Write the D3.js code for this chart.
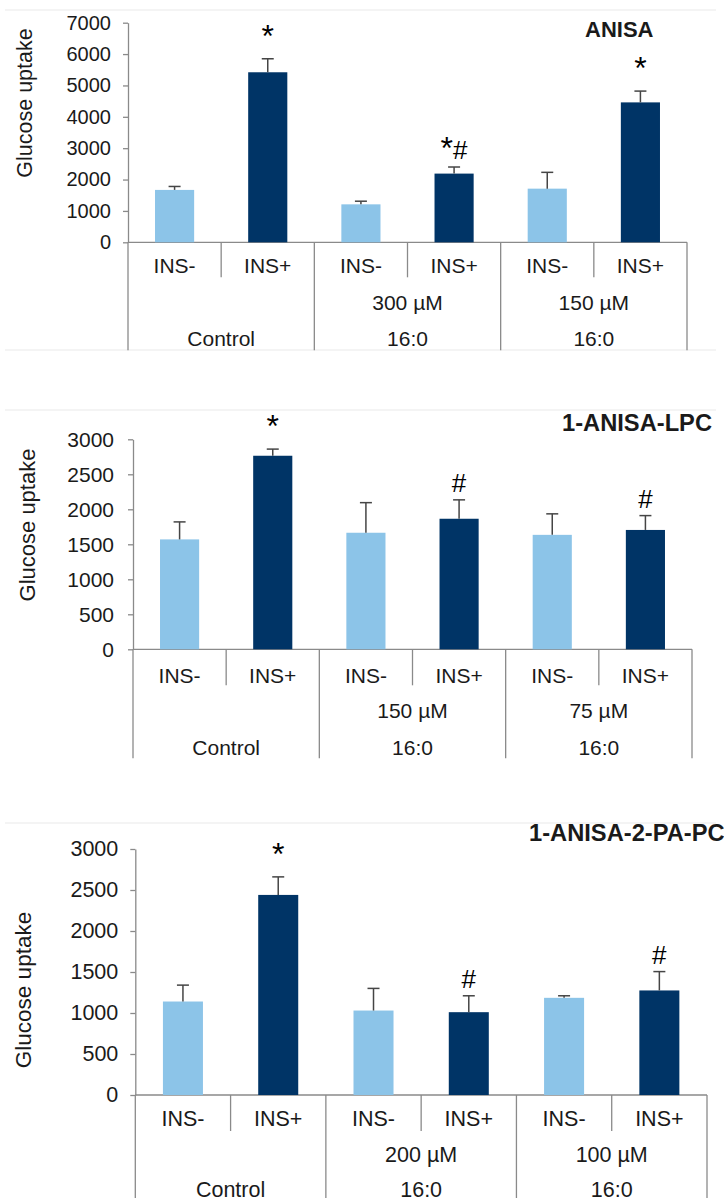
<!DOCTYPE html>
<html><head><meta charset="utf-8">
<script src="https://cdn.jsdelivr.net/npm/d3@7"></script>
<style>body{margin:0;background:#fff} svg text{font-family:"Liberation Sans",Arial,sans-serif;fill:#1a1a1a}</style>
</head><body>
<svg id="chart" width="724" height="1198"></svg>
<script>
// ---- data ----
const categories = ["INS-", "INS+", "INS-", "INS+", "INS-", "INS+"];
const lipidLabels = ["Control", "16:0", "16:0"];

const anisaDoses = ["", "300 µM", "150 µM"];
const anisaValues = [1670, 5420, 1210, 2190, 1710, 4460];
const anisaErrors = [110, 430, 100, 210, 520, 360];
const anisaMarks = ["", "*", "", "*#", "", "*"];
const anisaTicks = [0, 1000, 2000, 3000, 4000, 5000, 6000, 7000];

const lpcDoses = ["", "150 µM", "75 µM"];
const lpcValues = [1570, 2765, 1665, 1865, 1635, 1705];
const lpcErrors = [250, 95, 430, 270, 300, 205];
const lpcMarks = ["", "*", "", "#", "", "#"];
const lpcTicks = [0, 500, 1000, 1500, 2000, 2500, 3000];

const papcDoses = ["", "200 µM", "100 µM"];
const papcValues = [1140, 2440, 1030, 1010, 1185, 1275];
const papcErrors = [200, 220, 270, 200, 25, 230];
const papcMarks = ["", "*", "", "#", "", "#"];
const papcTicks = [0, 500, 1000, 1500, 2000, 2500, 3000];

const yTitle = "Glucose uptake";
const lightColor = "#8cc4e8";
const darkColor = "#003466";

const svg = d3.select("#chart");

function drawPanel(p) {
  const n = p.values.length;
  const x = d3.scaleBand().domain(d3.range(n)).range([p.x0, p.x1]).padding(0);
  const bw = x.bandwidth();
  const y = d3.scaleLinear().domain([0, d3.max(p.ticks)]).range([p.y0, p.yTop]);
  const g = svg.append("g");

  // faint chart frame lines
  g.append("line").attr("x1", 5).attr("x2", 716).attr("y1", p.frameTop).attr("y2", p.frameTop)
    .attr("stroke", "#f0f0f0").attr("stroke-width", 1.5);
  if (p.frameBottom) g.append("line").attr("x1", 5).attr("x2", 716).attr("y1", p.frameBottom).attr("y2", p.frameBottom)
    .attr("stroke", "#f0f0f0").attr("stroke-width", 1.5);

  // y axis
  const ax = g.append("g").attr("transform", `translate(${p.x0},0)`)
    .call(d3.axisLeft(y).tickValues(p.ticks).tickSize(5).tickSizeOuter(0).tickPadding(p.tickPad).tickFormat(d3.format("d")));
  ax.select(".domain").attr("stroke", "#8a8a8a").attr("stroke-width", 1.3);
  ax.selectAll(".tick line").attr("stroke", "#8a8a8a").attr("stroke-width", 1.3);
  ax.selectAll(".tick text").attr("font-size", p.tickSize).attr("fill", "#1a1a1a")
    .style("font-family", '"Liberation Sans",Arial,sans-serif');

  // baseline + category separators
  g.append("line").attr("x1", p.x0).attr("x2", p.x1).attr("y1", y(0)).attr("y2", y(0))
    .attr("stroke", "#8a8a8a").attr("stroke-width", 1.3);
  const seps = d3.range(n + 1);
  g.selectAll(".sep").data(seps).join("line")
    .attr("x1", i => p.x0 + i * bw).attr("x2", i => p.x0 + i * bw)
    .attr("y1", y(0))
    .attr("y2", i => i % 2 === 0 ? y(0) + p.longDrop : y(0) + p.shortDrop)
    .attr("stroke", "#8a8a8a").attr("stroke-width", 1.3);

  // bars
  const barW = bw * 0.42;
  g.selectAll(".bar").data(p.values).join("rect")
    .attr("x", (d, i) => x(i) + (bw - barW) / 2)
    .attr("width", barW)
    .attr("y", d => y(d))
    .attr("height", d => y(0) - y(d))
    .attr("fill", (d, i) => i % 2 === 0 ? lightColor : darkColor);

  // error bars (upper only)
  const eg = g.selectAll(".err").data(p.values).join("g");
  eg.append("line")
    .attr("x1", (d, i) => x(i) + bw / 2).attr("x2", (d, i) => x(i) + bw / 2)
    .attr("y1", d => y(d)).attr("y2", (d, i) => y(d + p.errors[i]))
    .attr("stroke", "#454545").attr("stroke-width", 1.5);
  eg.append("line")
    .attr("x1", (d, i) => x(i) + bw / 2 - 6).attr("x2", (d, i) => x(i) + bw / 2 + 6)
    .attr("y1", (d, i) => y(d + p.errors[i])).attr("y2", (d, i) => y(d + p.errors[i]))
    .attr("stroke", "#454545").attr("stroke-width", 1.5);

  // significance marks
  p.marks.forEach((m, i) => {
    if (!m) return;
    const cx = x(i) + bw / 2;
    const top = y(p.values[i] + p.errors[i]);
    const lift = m.includes("#") ? 8 : 12;
    const t = g.append("text").attr("x", cx).attr("y", top - lift).attr("text-anchor", "middle");
    m.split("").forEach(ch => {
      t.append("tspan").text(ch).attr("font-size", ch === "*" ? 32 : 26)
        .attr("fill", "#000");
    });
  });

  // category labels
  g.selectAll(".cat").data(categories).join("text")
    .attr("x", (d, i) => x(i) + bw / 2).attr("y", y(0) + p.row1)
    .attr("text-anchor", "middle").attr("dominant-baseline", "central")
    .attr("font-size", p.catSize).text(d => d);
  g.selectAll(".dose").data(p.doses).join("text")
    .attr("x", (d, j) => x(2 * j) + bw).attr("y", y(0) + p.row2)
    .attr("text-anchor", "middle").attr("dominant-baseline", "central")
    .attr("font-size", p.catSize).text(d => d);
  g.selectAll(".lipid").data(lipidLabels).join("text")
    .attr("x", (d, j) => x(2 * j) + bw).attr("y", y(0) + p.row3)
    .attr("text-anchor", "middle").attr("dominant-baseline", "central")
    .attr("font-size", p.catSize).text(d => d);

  // y title
  g.append("text").attr("transform", `translate(${p.labelX},${p.labelY}) rotate(-90)`)
    .attr("text-anchor", "middle").attr("dominant-baseline", "central")
    .attr("font-size", p.yTitleSize).text(yTitle);

  // panel title
  g.append("text").attr("x", p.titleX).attr("y", p.titleY)
    .attr("font-size", p.titleSize).attr("font-weight", "bold").attr("fill", "#000")
    .attr("dominant-baseline", "central").text(p.title);
}

drawPanel({
  title: "ANISA", values: anisaValues, errors: anisaErrors, marks: anisaMarks, doses: anisaDoses, ticks: anisaTicks,
  x0: 128, x1: 687, yTop: 22.7, y0: 242.3, shortDrop: 35, longDrop: 108,
  row1: 23, row2: 60, row3: 96, tickSize: 20, tickPad: 12, catSize: 21, yTitleSize: 21.5,
  labelX: 25, labelY: 103, titleX: 585, titleY: 29, titleSize: 22, frameTop: 10, frameBottom: 350
});
drawPanel({
  title: "1-ANISA-LPC", values: lpcValues, errors: lpcErrors, marks: lpcMarks, doses: lpcDoses, ticks: lpcTicks,
  x0: 133, x1: 692, yTop: 439.3, y0: 649.3, shortDrop: 36, longDrop: 109,
  row1: 26, row2: 61, row3: 98, tickSize: 21, tickPad: 14, catSize: 21, yTitleSize: 22,
  labelX: 27, labelY: 525, titleX: 562, titleY: 423, titleSize: 23.7, frameTop: 410, frameBottom: 0
});
drawPanel({
  title: "1-ANISA-2-PA-PC", values: papcValues, errors: papcErrors, marks: papcMarks, doses: papcDoses, ticks: papcTicks,
  x0: 135.3, x1: 707, yTop: 849, y0: 1095, shortDrop: 36, longDrop: 130,
  row1: 24, row2: 60, row3: 95, tickSize: 21.5, tickPad: 12, catSize: 21.5, yTitleSize: 22.5,
  labelX: 23, labelY: 990, titleX: 529, titleY: 833, titleSize: 23.7, frameTop: 823, frameBottom: 0
});
</script>
</body></html>
